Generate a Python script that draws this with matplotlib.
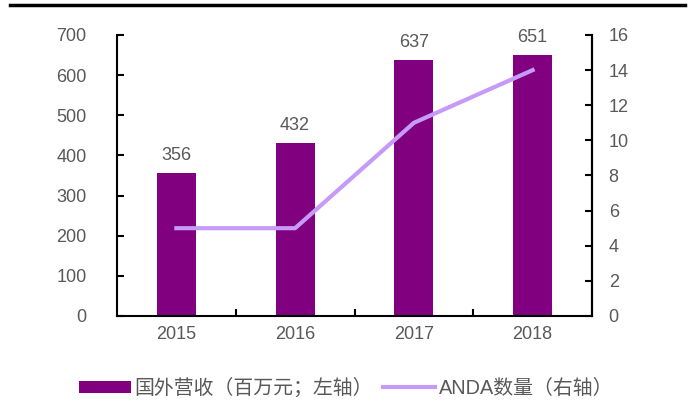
import matplotlib
matplotlib.use("Agg")
import matplotlib.pyplot as plt
from matplotlib.lines import Line2D
import numpy as np

plt.rcParams['font.family'] = ['Liberation Sans', 'Noto Sans CJK SC', 'DejaVu Sans']

years = ['2015', '2016', '2017', '2018']
revenue = [356, 432, 637, 651]
anda = [5, 5, 11, 14]
bar_label = '国外营收（百万元；左轴）'
line_label = 'ANDA数量（右轴）'

grey = '#595959'
fig = plt.figure(figsize=(6.91, 4.16), dpi=100)
ax = fig.add_axes([117/691, 1-316/416, (592-117)/691, (316-35)/416])
x = np.arange(len(years))
bars = ax.bar(x, revenue, width=0.33, color='#800080', label=bar_label, zorder=2)
for xi, v in zip(x, revenue):
    ax.text(xi, v + 22, str(v), ha='center', va='bottom', fontsize=13, color=grey)
ax.set_xlim(-0.5, 3.5)
ax.set_ylim(0, 700)
ax.set_yticks(range(0, 701, 100))
ax.set_xticks(x)
ax.set_xticklabels(years)
ax.tick_params(axis='x', length=0, labelsize=13, labelcolor=grey, pad=7)
ax.set_xticks([0.5, 1.5, 2.5], minor=True)
ax.tick_params(axis='x', which='minor', direction='in', length=5, width=1.5, color='black')
ax.tick_params(axis='y', direction='in', length=5, width=1.5, labelsize=13, labelcolor=grey, pad=22)
for s in ['left', 'bottom', 'right']:
    ax.spines[s].set_linewidth(1.5)
ax.spines['top'].set_visible(False)

ax2 = ax.twinx()
ln, = ax2.plot(x, anda, color='#c59bf7', linewidth=3, label=line_label, zorder=3)
ax2.set_ylim(0, 16)
ax2.set_yticks(range(0, 17, 2))
ax2.tick_params(axis='y', direction='in', length=5, width=1.5, labelsize=13, labelcolor=grey, pad=12)
ax2.spines['top'].set_visible(False)
ax2.spines['right'].set_linewidth(1.5)
ax2.spines['left'].set_visible(False)
ax2.spines['bottom'].set_visible(False)

fig.add_artist(Line2D([10/691, 685/691], [1-5/416, 1-5/416], color='black', linewidth=2.5))

fig.legend([bars, ln], [bar_label, line_label], loc='center', bbox_to_anchor=(346/691, 1-388/416),
           ncol=2, frameon=False, fontsize=14.3, labelcolor=grey, handlelength=2.6,
           handletextpad=0.2, columnspacing=0.5, handleheight=0.6)

fig.savefig('out.png', dpi=100)
